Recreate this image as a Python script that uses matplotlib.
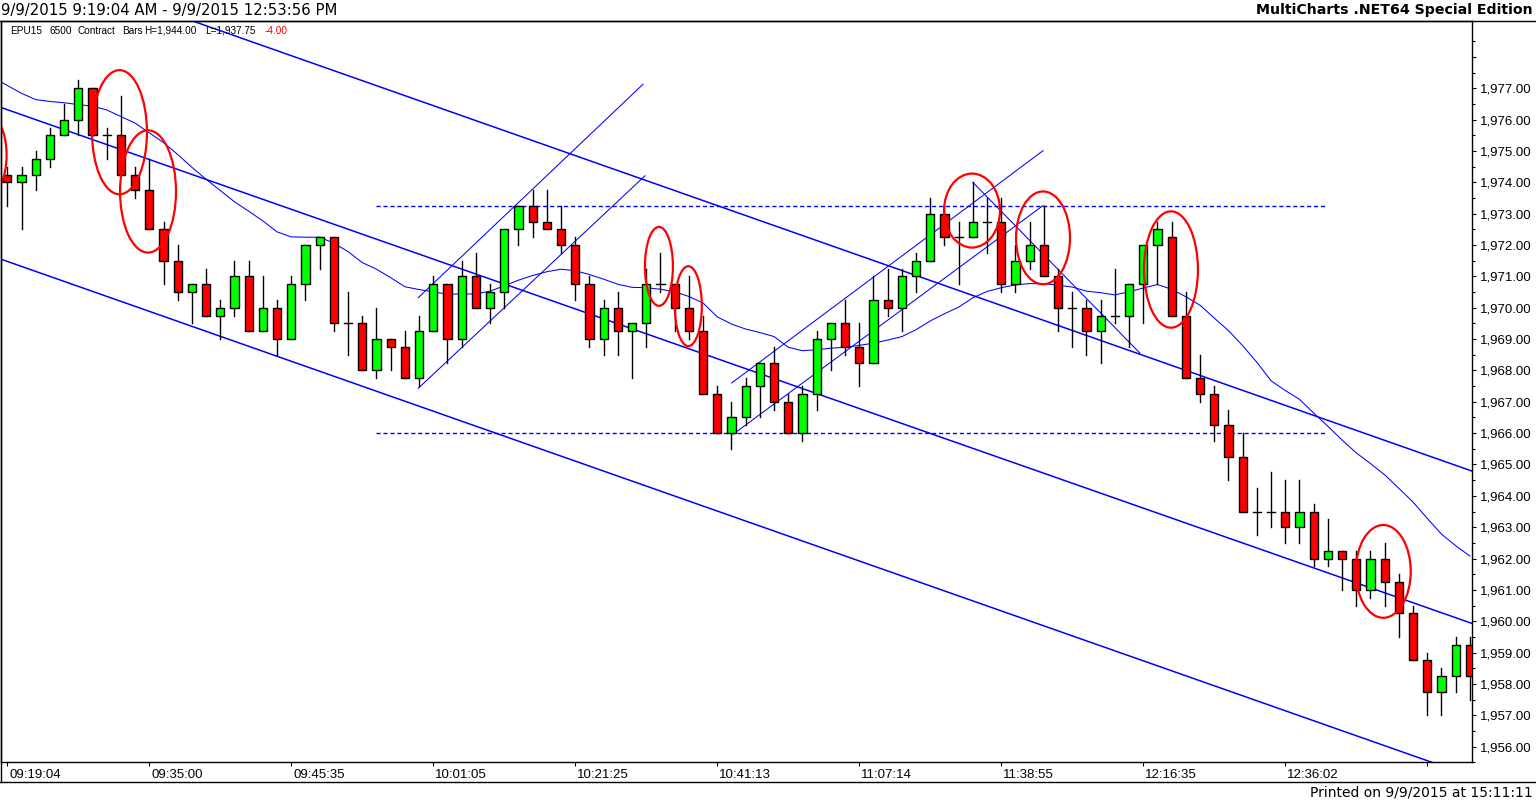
import matplotlib
matplotlib.use('Agg')
import matplotlib.pyplot as plt
from matplotlib.patches import Rectangle, Ellipse
from matplotlib.lines import Line2D
from matplotlib.transforms import ScaledTranslation

W, H = 1536, 801

# OHLC, one entry per bar
opens = [1974.25, 1974.0, 1974.25, 1974.75, 1975.5, 1976.0, 1977.0, 1975.5, 1975.5, 1974.25,
         1973.75, 1972.5, 1971.5, 1970.5, 1970.75, 1969.75, 1970.0, 1971.0, 1969.25, 1970.0,
         1969.0, 1970.75, 1972.0, 1972.25, 1969.5, 1969.5, 1968.0, 1969.0, 1968.75, 1967.75,
         1969.25, 1970.75, 1969.0, 1971.0, 1970.0, 1970.5, 1972.5, 1973.25, 1972.75, 1972.5,
         1972.0, 1970.75, 1969.0, 1970.0, 1969.25, 1969.5, 1970.75, 1970.75, 1970.0, 1969.25,
         1967.25, 1966.0, 1966.5, 1967.5, 1968.25, 1967.0, 1966.0, 1967.25, 1969.0, 1969.5,
         1968.75, 1968.25, 1970.25, 1970.0, 1971.0, 1971.5, 1973.0, 1972.25, 1972.25, 1972.75,
         1972.75, 1970.75, 1971.5, 1972.0, 1971.0, 1970.0, 1970.0, 1969.25, 1969.75, 1969.75,
         1970.75, 1972.0, 1972.25, 1969.75, 1967.75, 1967.25, 1966.25, 1965.25, 1963.5, 1963.5,
         1963.5, 1963.0, 1963.5, 1962.0, 1962.25, 1962.0, 1961.0, 1962.0, 1961.25, 1960.25,
         1958.75, 1957.75, 1958.25, 1959.25]
highs = [1974.5, 1974.5, 1975.0, 1975.75, 1976.5, 1977.25, 1977.0, 1975.75, 1976.75, 1974.5,
         1974.75, 1972.75, 1972.0, 1970.75, 1971.25, 1970.25, 1971.5, 1971.5, 1971.0, 1970.25,
         1971.0, 1972.0, 1972.25, 1972.25, 1970.5, 1969.75, 1970.0, 1969.0, 1969.25, 1969.75,
         1971.0, 1970.75, 1971.5, 1971.75, 1970.75, 1972.5, 1973.25, 1973.75, 1973.75, 1973.25,
         1972.25, 1971.0, 1970.25, 1970.5, 1969.5, 1971.25, 1971.75, 1970.75, 1971.0, 1969.75,
         1967.5, 1967.0, 1967.75, 1968.25, 1968.75, 1967.25, 1967.5, 1969.25, 1969.5, 1970.25,
         1969.5, 1971.0, 1971.25, 1971.25, 1971.75, 1973.5, 1973.25, 1972.75, 1974.0, 1973.5,
         1973.5, 1972.0, 1972.75, 1973.25, 1971.25, 1970.5, 1970.25, 1970.25, 1971.25, 1970.75,
         1972.0, 1972.75, 1972.75, 1970.5, 1968.5, 1967.5, 1966.75, 1966.0, 1964.25, 1964.75,
         1964.5, 1964.5, 1963.75, 1963.25, 1962.25, 1962.25, 1962.25, 1962.5, 1961.5, 1960.5,
         1959.0, 1958.5, 1959.5, 1959.5]
lows = [1973.25, 1972.5, 1973.75, 1974.5, 1975.5, 1975.5, 1975.5, 1974.75, 1974.25, 1973.5,
        1972.5, 1970.75, 1970.25, 1969.5, 1969.75, 1969.0, 1969.75, 1969.25, 1969.25, 1968.5,
        1969.0, 1970.25, 1971.25, 1969.25, 1968.5, 1968.0, 1967.75, 1968.0, 1967.75, 1967.5,
        1969.25, 1968.25, 1968.75, 1970.0, 1969.5, 1970.0, 1972.0, 1972.25, 1972.5, 1971.75,
        1970.25, 1968.75, 1968.5, 1968.5, 1967.75, 1968.75, 1970.5, 1969.25, 1969.0, 1967.25,
        1966.0, 1965.5, 1966.25, 1966.5, 1966.75, 1966.0, 1965.75, 1966.75, 1968.0, 1968.5,
        1967.5, 1968.25, 1969.75, 1969.25, 1970.5, 1971.5, 1972.0, 1970.75, 1972.25, 1971.75,
        1970.5, 1970.5, 1971.25, 1971.0, 1969.25, 1968.75, 1968.5, 1968.25, 1969.5, 1968.75,
        1969.5, 1970.75, 1969.75, 1967.75, 1967.0, 1965.75, 1964.5, 1963.5, 1962.75, 1963.0,
        1962.5, 1962.5, 1961.75, 1961.75, 1961.0, 1960.5, 1960.75, 1960.5, 1959.5, 1958.75,
        1957.0, 1957.0, 1957.75, 1957.5]
closes = [1974.0, 1974.25, 1974.75, 1975.5, 1976.0, 1977.0, 1975.5, 1975.5, 1974.25, 1973.75,
          1972.5, 1971.5, 1970.5, 1970.75, 1969.75, 1970.0, 1971.0, 1969.25, 1970.0, 1969.0,
          1970.75, 1972.0, 1972.25, 1969.5, 1969.5, 1968.0, 1969.0, 1968.75, 1967.75, 1969.25,
          1970.75, 1969.0, 1971.0, 1970.0, 1970.5, 1972.5, 1973.25, 1972.75, 1972.5, 1972.0,
          1970.75, 1969.0, 1970.0, 1969.25, 1969.5, 1970.75, 1970.75, 1970.0, 1969.25, 1967.25,
          1966.0, 1966.5, 1967.5, 1968.25, 1967.0, 1966.0, 1967.25, 1969.0, 1969.5, 1968.75,
          1968.25, 1970.25, 1970.0, 1971.0, 1971.5, 1973.0, 1972.25, 1972.25, 1972.75, 1972.75,
          1970.75, 1971.5, 1972.0, 1971.0, 1970.0, 1970.0, 1969.25, 1969.75, 1969.75, 1970.75,
          1972.0, 1972.5, 1969.75, 1967.75, 1967.25, 1966.25, 1965.25, 1963.5, 1963.5, 1963.5,
          1963.0, 1963.5, 1962.0, 1962.25, 1962.0, 1961.0, 1962.0, 1961.25, 1960.25, 1958.75,
          1957.75, 1958.25, 1959.25, 1958.25]

# moving average as drawn on the chart (first value sits at the left edge)
ma_left = 1977.22
ma = [1977.09, 1976.84, 1976.64, 1976.58, 1976.54, 1976.48, 1976.43, 1976.31, 1976.10, 1975.89,
      1975.58, 1975.27, 1974.89, 1974.48, 1974.10, 1973.74, 1973.38, 1973.08, 1972.77, 1972.42,
      1972.26, 1972.25, 1972.25, 1972.06, 1971.79, 1971.44, 1971.23, 1970.96, 1970.67, 1970.58,
      1970.51, 1970.43, 1970.44, 1970.44, 1970.53, 1970.70, 1970.88, 1971.03, 1971.15, 1971.23,
      1971.18, 1971.06, 1970.91, 1970.75, 1970.65, 1970.64, 1970.59, 1970.51, 1970.36, 1970.15,
      1969.71, 1969.48, 1969.32, 1969.21, 1969.08, 1968.74, 1968.63, 1968.66, 1968.71, 1968.74,
      1968.80, 1968.87, 1968.97, 1969.08, 1969.30, 1969.58, 1969.81, 1970.02, 1970.32, 1970.52,
      1970.64, 1970.73, 1970.77, 1970.77, 1970.72, 1970.66, 1970.53, 1970.48, 1970.41, 1970.51,
      1970.63, 1970.74, 1970.59, 1970.35, 1970.08, 1969.67, 1969.27, 1968.79, 1968.26, 1967.67,
      1967.36, 1967.08, 1966.64, 1966.22, 1965.78, 1965.37, 1965.03, 1964.67, 1964.24, 1963.80,
      1963.28, 1962.78, 1962.41, 1962.08]

time_ticks = [0, 10, 20, 30, 40, 50, 60, 70, 80, 90, 100]
time_labels = ['09:19:04', '09:35:00', '09:45:35', '10:01:05', '10:21:25', '10:41:13',
               '11:07:14', '11:38:55', '12:16:35', '12:36:02', '']

# drawn lines: (bar, price) pairs
channel_bars = [-0.514, 103.15]
channel_upper = [1981.31, 1964.79]
channel_mid = [1976.40, 1959.93]
channel_lower = [1971.56, 1955.05]
trend_lines = [
    ([28.94, 44.77], [1970.32, 1977.13]),
    ([28.94, 44.91], [1967.43, 1974.21]),
    ([51.01, 72.94], [1967.60, 1975.01]),
    ([51.13, 72.94], [1965.97, 1973.26]),
    ([68.0, 79.77], [1974.0, 1968.55]),
]
dotted_levels = [1973.25, 1966.0]
dotted_span = [25.96, 92.94]

ell_bar = [-1.5, 7.90, 9.91, 45.89, 47.96, 67.94, 72.94, 81.95, 96.90]
ell_price = [1974.87, 1975.60, 1973.71, 1971.32, 1970.05, 1973.10, 1972.23, 1971.22, 1961.59]
ell_w = [2.9, 3.87, 3.94, 1.97, 1.90, 3.94, 3.80, 3.80, 3.87]
ell_h = [2.7, 3.96, 3.90, 2.52, 2.55, 2.36, 2.96, 3.71, 2.96]

fig = plt.figure(figsize=(W / 100, H / 100), dpi=100)
ax = fig.add_axes([1 / W, (H - 762.3) / H, 1471 / W, (762.3 - 20.7) / H])
ax.set_xlim(-0.444, 103.15)
ax.set_ylim(1955.836, 1979.157)

blue = '#0000ff'
ax.plot(channel_bars, channel_upper, color=blue, lw=1.1, zorder=2)
ax.plot(channel_bars, channel_mid, color=blue, lw=1.1, zorder=2)
ax.plot(channel_bars, channel_lower, color=blue, lw=1.1, zorder=2)
for xs, ys in trend_lines:
    ax.plot(xs, ys, color=blue, lw=0.75, zorder=2)
for lvl in dotted_levels:
    ax.plot(dotted_span, [lvl, lvl], color=blue, lw=1.0, dashes=(3, 2), zorder=2)
ax.plot([-0.5] + list(range(len(ma))), [ma_left] + ma, color=blue, lw=0.75, zorder=2)

bw = 0.58
for i in range(len(opens)):
    o, h, l, c = opens[i], highs[i], lows[i], closes[i]
    ax.plot([i, i], [l, h], color='black', lw=1.0, zorder=3)
    if c == o:
        ax.plot([i - bw / 2, i + bw / 2], [o, o], color='black', lw=1.0, zorder=4)
    else:
        col = '#00ff00' if c > o else '#ff0000'
        ax.add_patch(Rectangle((i - bw / 2, min(o, c)), bw, abs(c - o),
                               facecolor=col, edgecolor='black', lw=1.0, zorder=4))

for i in range(len(ell_bar)):
    ax.add_patch(Ellipse((ell_bar[i], ell_price[i]), ell_w[i], ell_h[i],
                         fill=False, edgecolor='#ff0000', lw=1.6, zorder=5))

# axes styling
for s in ax.spines.values():
    s.set_color('black')
    s.set_linewidth(1.0)
ax.yaxis.tick_right()
ax.set_yticks(range(1956, 1979))
ax.set_yticks([v + 0.5 for v in range(1955, 1979)], minor=True)
ax.set_yticklabels(['' if v == 1978 else f'{v:,.2f}' for v in range(1956, 1979)])
ax.tick_params(axis='y', which='major', length=3, width=0.8, pad=3, labelsize=9.5)
ax.tick_params(axis='y', which='minor', length=2, width=0.8)
ax.set_xticks(time_ticks)
ax.set_xticklabels(time_labels)
ax.tick_params(axis='x', length=3, width=0.8, pad=2, labelsize=9.5)
for lab in ax.get_yticklabels() + ax.get_xticklabels():
    lab.set_family('Liberation Sans')
for lab in ax.get_xticklabels():
    lab.set_horizontalalignment('left')
    lab.set_transform(lab.get_transform() + ScaledTranslation(1.5 / 72, 0, fig.dpi_scale_trans))

# frame lines outside the plot area
fig.add_artist(Line2D([0, 1], [1 - 20.7 / H] * 2, color='black', lw=1.0))
fig.add_artist(Line2D([0, 1], [1 - 782.3 / H] * 2, color='black', lw=1.0))
fig.add_artist(Line2D([1 / W, 1 / W], [1 - 20.7 / H, 1 - 782.3 / H], color='black', lw=1.0))


def px_text(x, y, s, **kw):
    fig.text(x / W, 1 - y / H, s, va='center', **kw)


px_text(1, 10, '9/9/2015 9:19:04 AM - 9/9/2015 12:53:56 PM', fontsize=10.7, family='DejaVu Sans')
px_text(1533, 10, 'MultiCharts .NET64 Special Edition', ha='right', fontsize=10.2,
        fontweight='bold', family='DejaVu Sans')
px_text(1533, 792, 'Printed on 9/9/2015 at 15:11:11', ha='right', fontsize=10,
        family='DejaVu Sans')

legend_x = [10, 49, 77, 122, 144, 205, 265]
legend_s = ['EPU15', '6500', 'Contract', 'Bars', 'H=1,944.00', 'L=1,937.75', '-4.00']
for x, s in zip(legend_x, legend_s):
    px_text(x, 30.5, s, fontsize=7.2, family='Liberation Sans',
            color='#ff0000' if s == '-4.00' else 'black')

fig.savefig('out.png', dpi=100)
